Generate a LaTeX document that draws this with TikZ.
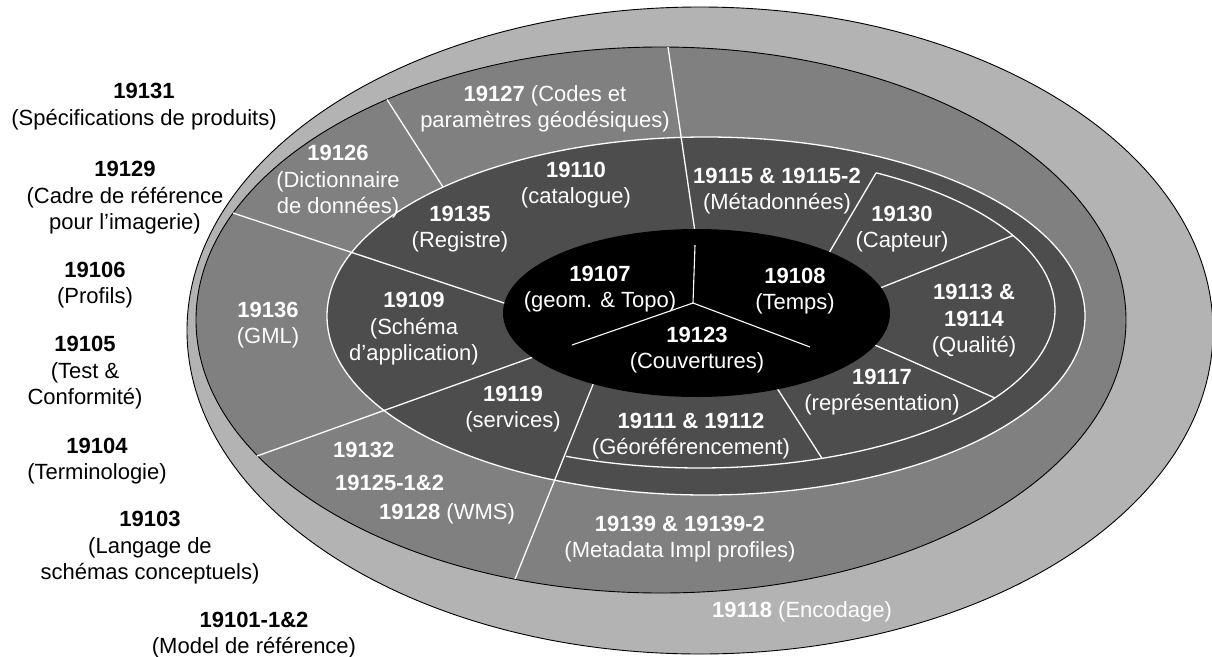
\documentclass[tikz,border=0pt]{standalone}
\usepackage{fontspec}
\setmainfont{Liberation Sans}
\definecolor{lg}{HTML}{B3B3B3}
\definecolor{mg}{HTML}{808080}
\definecolor{dg}{HTML}{4D4D4D}
\begin{document}
\begin{tikzpicture}[x=1pt,y=-1pt,
  wl/.style={white, line width=1.3pt},
  ring/.style={draw=black, line width=0.9pt},
  lbl/.style={align=center, font=\fontsize{22}{26.5}\selectfont, inner sep=0pt},
  wt/.style={lbl, text=white},
  bt/.style={lbl, text=black}]
\useasboundingbox (0,0) rectangle (1212,656);
% rings
\fill[lg, ring] (700,330.5) ellipse [x radius=513, y radius=323.5];
\fill[mg, ring] (661,320) ellipse [x radius=465, y radius=273];
\fill[dg] (706,316) ellipse [x radius=379, y radius=179];
\draw[wl] (706,316) ellipse [x radius=379, y radius=179];
% sector end points
\coordinate (l1a) at (668,47);   \coordinate (l1b) at (695,232);
\coordinate (l2a) at (387,99.5); \coordinate (l2b) at (443,187);
\coordinate (l3a) at (233,213);  \coordinate (l3b) at (510,305);
\coordinate (l4a) at (257,456);  \coordinate (l4b) at (536,356);
\coordinate (l5a) at (594,382);  \coordinate (l5b) at (515,579);
\coordinate (l6a) at (775,385);  \coordinate (l6b) at (822,458.4);
\coordinate (l7a) at (868,342);  \coordinate (l7b) at (995,398);
\coordinate (l8a) at (875,290);  \coordinate (l8b) at (1013,235.5);
\coordinate (l9a) at (826,258);  \coordinate (l9b) at (876,173);
\draw[wl] (l1a) -- (l1b);
\draw[wl] (l2a) -- (l2b);
\draw[wl] (l3a) -- (l3b);
\draw[wl] (l4a) -- (l4b);
\draw[wl] (l5a) -- (l5b);
\draw[wl] (l6a) -- (l6b);
\draw[wl] (l7a) -- (l7b);
\draw[wl] (l8a) -- (l8b);
\draw[wl] (l9a) -- (l9b);
% inner arc
\draw[wl] plot[domain=-60.3:112.2, samples=120, smooth] ({700+355*cos(\x)}, {310+158*sin(\x)});
% core
\fill[black] (696.5,313) ellipse [x radius=193.5, y radius=84];
\coordinate (cc) at (693,303);
\coordinate (cu) at (695,245);
\coordinate (cl) at (572,345);
\coordinate (cr) at (810,347);
\draw[white, line width=1.1pt] (cu) -- (cc) -- (cl);
\draw[white, line width=1.1pt] (cc) -- (cr);
% left labels
\node[bt] (t19131) at (144,106.5) {\textbf{19131}\\(Spécifications de produits)};
\node[bt] (t19129) at (125,198) {\textbf{19129}\\(Cadre de référence\\pour l’imagerie)};
\node[bt] (t19106) at (95,285) {\textbf{19106}\\(Profils)};
\node[bt] (t19105) at (85,373) {\textbf{19105}\\(Test \&\\Conformité)};
\node[bt] (t19104) at (97,461) {\textbf{19104}\\(Terminologie)};
\node[bt] (t19103) at (150,548) {\textbf{19103}\\(Langage de\\schémas conceptuels)};
\node[bt] (t19101) at (254,635) {\textbf{19101-1\&2}\\(Model de référence)};
% ring labels
\node[wt] (t19126) at (338,182) {\textbf{19126}\\(Dictionnaire\\de données)};
\node[wt] (t19136) at (268,325) {\textbf{19136}\\(GML)};
\node[wt, anchor=west] (t19132) at (333,450) {\textbf{19132}};
\node[wt, anchor=west] (t19125) at (335,482.5) {\textbf{19125-1\&2}};
\node[wt, anchor=west] (t19128) at (379,514) {\textbf{19128} (WMS)};
\node[wt] (t19127) at (545,109) {\textbf{19127} (Codes et\\paramètres géodésiques)};
\node[wt] (t19110) at (576,185) {\textbf{19110}\\(catalogue)};
\node[wt] (t19135) at (460,229) {\textbf{19135}\\(Registre)};
\node[wt] (t19107) at (600,289) {\textbf{19107}\\(geom. \& Topo)};
\node[wt] (t19108) at (795,291) {\textbf{19108}\\(Temps)};
\node[wt] (t19123) at (697,350) {\textbf{19123}\\(Couvertures)};
\node[wt] (t19109) at (414,329) {\textbf{19109}\\(Schéma\\d’application)};
\node[wt] (t19119) at (513,409) {\textbf{19119}\\(services)};
\node[wt] (t19111) at (691,436) {\textbf{19111 \& 19112}\\(Géoréférencement)};
\node[wt] (t19139) at (680,539) {\textbf{19139 \& 19139-2}\\(Metadata Impl profiles)};
\node[wt] (t19118) at (802,612) {\textbf{19118} (Encodage)};
\node[wt] (t19115) at (777,191) {\textbf{19115 \& 19115-2}\\(Métadonnées)};
\node[wt] (t19130) at (902,229) {\textbf{19130}\\(Capteur)};
\node[wt] (t19113) at (974,321) {\textbf{19113 \&}\\\textbf{19114}\\(Qualité)};
\node[wt] (t19117) at (882,392) {\textbf{19117}\\(représentation)};
\end{tikzpicture}
\end{document}
